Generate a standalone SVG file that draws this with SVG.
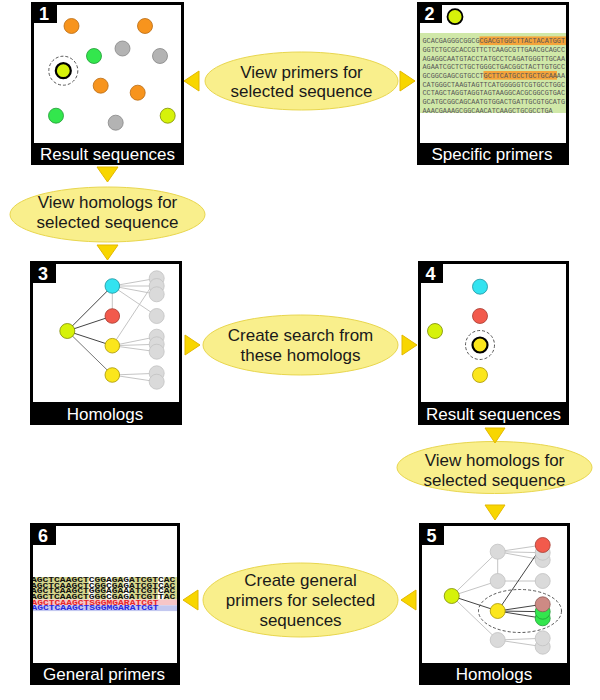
<svg xmlns="http://www.w3.org/2000/svg" width="600" height="700" viewBox="0 0 600 700">
<style>
.frame{fill:#000}
.inner{fill:#fff}
.num{font-family:"Liberation Sans",Arial,sans-serif;font-size:18px;font-weight:bold;fill:#fff;text-anchor:middle}
.lbl{font-family:"Liberation Sans",Arial,sans-serif;font-size:17px;fill:#fff;text-anchor:middle}
.ell{fill:#f9ef8c;stroke:#e8d64e;stroke-width:1}
.et{font-family:"Liberation Sans",Arial,sans-serif;font-size:17px;fill:#1a1a1a;text-anchor:middle}
.arr{fill:#f8d600;stroke:#e3b800;stroke-width:1}
.or{fill:#f7941d;stroke:#b86a12;stroke-width:0.8}
.gr{fill:#33e64d;stroke:#1e9a34;stroke-width:0.8}
.gy{fill:#b3b3b3;stroke:#858585;stroke-width:0.8}
.yg{fill:#d6f20a;stroke:#7d8c00;stroke-width:0.8}
.cy{fill:#33e3f0;stroke:#1a93a0;stroke-width:0.8}
.rd{fill:#f25a4c;stroke:#a63a30;stroke-width:0.8}
.ye{fill:#fbe61c;stroke:#a89500;stroke-width:0.8}
.lg{fill:#dadada;stroke:#c2c2c2;stroke-width:0.8}
.pk{fill:#cd8a84;stroke:#8a5a55;stroke-width:0.8}
.sel{stroke:#000;stroke-width:2.2}
.dash{fill:none;stroke:#444;stroke-width:0.9;stroke-dasharray:3,2}
.ed{stroke:#444;stroke-width:1}
.el{stroke:#bdbdbd;stroke-width:0.9}
.seq{font-family:"Liberation Mono","Courier New",monospace;font-size:7.5px;fill:#555}
.seq6{font-family:"Liberation Mono","Courier New",monospace;font-size:6.3px;font-weight:bold;fill:#111}
</style>
<defs>
<clipPath id="c2"><rect x="420" y="5" width="146" height="138"/></clipPath>
<clipPath id="c6"><rect x="33" y="526" width="144" height="137"/></clipPath>
</defs>

<!-- Panel 1 -->
<g id="panel1">
<rect class="frame" x="31" y="2" width="153" height="163"/>
<rect class="inner" x="34" y="5" width="147" height="138"/>
<rect class="frame" x="31" y="2" width="26" height="21"/>
<text class="num" x="44" y="20">1</text>
<circle class="or" cx="71.5" cy="26" r="7.5"/>
<circle class="or" cx="145" cy="26" r="7.5"/>
<circle class="gr" cx="94" cy="56" r="7.5"/>
<circle class="gy" cx="122.5" cy="48.5" r="7.5"/>
<circle class="gy" cx="160" cy="56" r="7.5"/>
<circle class="dash" cx="63.3" cy="70.7" r="14.5"/>
<circle class="yg sel" cx="63.3" cy="70.7" r="7.5"/>
<circle class="or" cx="100.7" cy="85.7" r="7.5"/>
<circle class="or" cx="137.7" cy="92.7" r="7.5"/>
<circle class="gr" cx="56" cy="115.7" r="7.5"/>
<circle class="gy" cx="115.7" cy="122.7" r="7.5"/>
<circle class="yg" cx="167.7" cy="115.7" r="7.5"/>
<text class="lbl" x="107.5" y="160">Result sequences</text>
</g>

<!-- Panel 2 -->
<g id="panel2">
<rect class="frame" x="417" y="2" width="152" height="163"/>
<rect class="inner" x="420" y="5" width="146" height="138"/>
<rect class="frame" x="417" y="2" width="25" height="21"/>
<text class="num" x="429.5" y="20">2</text>
<circle class="yg" cx="455" cy="16.7" r="7.5" style="stroke:#000;stroke-width:1.8"/>
<g clip-path="url(#c2)">
<rect x="420" y="33" width="146" height="80" fill="#d0e8a8"/>
<rect x="479.5" y="36.4" width="87" height="8.7" fill="#f5a43a"/>
<rect x="483.5" y="71" width="73.5" height="8.7" fill="#f5a43a"/>
<text class="seq" x="422.5" y="43.2" textLength="142.5" lengthAdjust="spacingAndGlyphs">GCACGAGGGCGGCGCGACGTGGCTTACTACATGGT</text>
<text class="seq" x="422.5" y="51.9" textLength="142.5" lengthAdjust="spacingAndGlyphs">GGTCTGCGCACCGTTCTCAAGCGTTGAACGCAGCC</text>
<text class="seq" x="422.5" y="60.5" textLength="142.5" lengthAdjust="spacingAndGlyphs">AGAGGCAATGTACCTATGCCTCAGATGGGTTGCAA</text>
<text class="seq" x="422.5" y="69.2" textLength="142.5" lengthAdjust="spacingAndGlyphs">AGAATCGCTCTGCTGGGCTGACGGCTACTTGTGCC</text>
<text class="seq" x="422.5" y="77.8" textLength="142.5" lengthAdjust="spacingAndGlyphs">GCGGCGAGCGTGCCTGCTTCATGCCTGCTGCAAAA</text>
<text class="seq" x="422.5" y="86.5" textLength="142.5" lengthAdjust="spacingAndGlyphs">CATGGGCTAAGTAGTTCATGGGGGTCGTGCCTGGC</text>
<text class="seq" x="422.5" y="95.2" textLength="142.5" lengthAdjust="spacingAndGlyphs">CCTAGCTAGGTAGGTAGTAAGGCACGCGGCGTGAC</text>
<text class="seq" x="422.5" y="103.8" textLength="142.5" lengthAdjust="spacingAndGlyphs">GCATGCGGCAGCAATGTGGACTGATTGCGTGCATG</text>
<text class="seq" x="422.5" y="112.5" textLength="130.2" lengthAdjust="spacingAndGlyphs">AAACGAAAGCGGCAACATCAAGCTGCGCCTGA</text>
</g>
<text class="lbl" x="492" y="160">Specific primers</text>
</g>

<!-- Panel 3 -->
<g id="panel3">
<rect class="frame" x="30" y="261" width="152" height="164"/>
<rect class="inner" x="33" y="264" width="146" height="138"/>
<rect class="frame" x="30" y="261" width="26" height="22"/>
<text class="num" x="43" y="280">3</text>
<g>
<line class="el" x1="112.3" y1="286" x2="156.7" y2="278.3"/>
<line class="el" x1="112.3" y1="286" x2="156.7" y2="286"/>
<line class="el" x1="112.3" y1="286" x2="156.7" y2="294.3"/>
<line class="el" x1="112.3" y1="286" x2="156.7" y2="316"/>
<line class="el" x1="112.3" y1="286" x2="112.3" y2="316"/>
<line class="el" x1="112.3" y1="345.7" x2="156.7" y2="278.3"/>
<line class="el" x1="112.3" y1="345.7" x2="156.7" y2="336.7"/>
<line class="el" x1="112.3" y1="345.7" x2="156.7" y2="344.3"/>
<line class="el" x1="112.3" y1="345.7" x2="156.7" y2="351.7"/>
<line class="el" x1="112.3" y1="375" x2="156.7" y2="373.3"/>
<line class="el" x1="112.3" y1="375" x2="156.7" y2="381.7"/>
<line class="ed" x1="67.3" y1="331" x2="112.3" y2="286"/>
<line class="ed" x1="67.3" y1="331" x2="112.3" y2="316"/>
<line class="ed" x1="67.3" y1="331" x2="112.3" y2="345.7"/>
<line class="ed" x1="67.3" y1="331" x2="112.3" y2="375" style="stroke:#777"/>
</g>
<circle class="lg" cx="156.7" cy="278.3" r="7.5"/>
<circle class="lg" cx="156.7" cy="286" r="7.5"/>
<circle class="lg" cx="156.7" cy="294.3" r="7.5"/>
<circle class="lg" cx="156.7" cy="316" r="7.5"/>
<circle class="lg" cx="156.7" cy="336.7" r="7.5"/>
<circle class="lg" cx="156.7" cy="344.3" r="7.5"/>
<circle class="lg" cx="156.7" cy="351.7" r="7.5"/>
<circle class="lg" cx="156.7" cy="373.3" r="7.5"/>
<circle class="lg" cx="156.7" cy="381.7" r="7.5"/>
<circle class="yg" cx="67.3" cy="331" r="7.5"/>
<circle class="cy" cx="112.3" cy="286" r="7.3"/>
<circle class="rd" cx="112.3" cy="316" r="7.3"/>
<circle class="ye" cx="112.3" cy="345.7" r="7.3"/>
<circle class="ye" cx="112.3" cy="375" r="7.3"/>
<text class="lbl" x="105" y="420">Homologs</text>
</g>

<!-- Panel 4 -->
<g id="panel4">
<rect class="frame" x="418" y="261" width="151" height="164"/>
<rect class="inner" x="421" y="264" width="145" height="138"/>
<rect class="frame" x="418" y="261" width="25" height="22"/>
<text class="num" x="430.5" y="280">4</text>
<circle class="cy" cx="480" cy="286.7" r="7.5"/>
<circle class="rd" cx="480" cy="316" r="7.5"/>
<circle class="yg" cx="435" cy="331" r="7.5"/>
<circle class="dash" cx="480" cy="345" r="14.5"/>
<circle class="ye sel" cx="480" cy="345" r="7.5"/>
<circle class="ye" cx="480" cy="375" r="7.5"/>
<text class="lbl" x="493.5" y="420">Result sequences</text>
</g>

<!-- Panel 5 -->
<g id="panel5">
<rect class="frame" x="419" y="523" width="151" height="162"/>
<rect class="inner" x="422" y="526" width="145" height="137"/>
<rect class="frame" x="419" y="523" width="25" height="22"/>
<text class="num" x="431.5" y="542">5</text>
<g>
<line class="el" x1="451.7" y1="596" x2="497.7" y2="551.7"/>
<line class="el" x1="451.7" y1="596" x2="497.7" y2="581"/>
<line class="el" x1="451.7" y1="596" x2="497.7" y2="640"/>
<line class="el" x1="497.7" y1="551.7" x2="542.7" y2="545"/>
<line class="el" x1="497.7" y1="551.7" x2="542.7" y2="552.7"/>
<line class="el" x1="497.7" y1="551.7" x2="542.7" y2="560"/>
<line class="el" x1="497.7" y1="551.7" x2="497.7" y2="581"/>
<line class="el" x1="497.7" y1="581" x2="542.7" y2="581"/>
<line class="el" x1="497.7" y1="640" x2="542.7" y2="638.3"/>
<line class="el" x1="497.7" y1="640" x2="542.7" y2="646.7"/>
<line class="ed" x1="451.7" y1="596" x2="497.7" y2="611"/>
<line class="ed" x1="497.7" y1="611" x2="542.7" y2="545"/>
<line class="ed" x1="497.7" y1="611" x2="542.7" y2="604.3"/>
<line class="ed" x1="497.7" y1="611" x2="542.7" y2="611.7"/>
<line class="ed" x1="497.7" y1="611" x2="542.7" y2="618.3"/>
</g>
<circle class="lg" cx="542.7" cy="560" r="7.5"/>
<circle class="lg" cx="542.7" cy="552.7" r="7.5"/>
<circle class="rd" cx="542.7" cy="545" r="7.5"/>
<circle class="lg" cx="542.7" cy="581" r="7.5"/>
<circle class="gr" cx="542.7" cy="618.3" r="7.5"/>
<circle class="gr" cx="542.7" cy="611.7" r="7.5"/>
<circle class="pk" cx="542.7" cy="604.3" r="7.5"/>
<circle class="lg" cx="542.7" cy="646.7" r="7.5"/>
<circle class="lg" cx="542.7" cy="638.3" r="7.5"/>
<circle class="lg" cx="497.7" cy="551.7" r="7.5"/>
<circle class="lg" cx="497.7" cy="581" r="7.5"/>
<circle class="lg" cx="497.7" cy="640" r="7.5"/>
<circle class="yg" cx="451.7" cy="596" r="7.5"/>
<circle class="ye" cx="497.7" cy="611" r="7.5"/>
<ellipse class="dash" cx="520" cy="611" rx="41.5" ry="21.5"/>
<text class="lbl" x="494" y="680">Homologs</text>
</g>

<!-- Panel 6 -->
<g id="panel6">
<rect class="frame" x="30" y="523" width="150" height="162"/>
<rect class="inner" x="33" y="526" width="144" height="137"/>
<g clip-path="url(#c6)">
<rect x="30" y="577" width="147" height="22.5" fill="#d6d68c"/>
<rect x="88.7" y="577" width="5.8" height="22.5" fill="#fff"/>
<rect x="106" y="577" width="5.8" height="22.5" fill="#fff"/>
<rect x="123.3" y="577" width="5.8" height="22.5" fill="#fff"/>
<rect x="157.9" y="577" width="5.8" height="22.5" fill="#fff"/>
<rect x="30" y="599.5" width="147" height="5.8" fill="#f7c6c8"/>
<rect x="30" y="605.3" width="147" height="5.8" fill="#c3c8f0"/>
<text class="seq6" x="31" y="582.2" textLength="144.3" lengthAdjust="spacingAndGlyphs">AGCTCAAGCTCGGAGAGATCGTCAC</text>
<text class="seq6" x="31" y="587.7" textLength="144.3" lengthAdjust="spacingAndGlyphs">AGCTCAAGCTCGGCGAGATCGTCAC</text>
<text class="seq6" x="31" y="593.2" textLength="144.3" lengthAdjust="spacingAndGlyphs">AGCTCAAGCTGGGAGAAATCGTCAC</text>
<text class="seq6" x="31" y="598.7" textLength="144.3" lengthAdjust="spacingAndGlyphs">AGCTCAAGCTGGGCGAGATCGTTAC</text>
<text class="seq6" x="31.5" y="604.6" textLength="127" lengthAdjust="spacingAndGlyphs" style="fill:#e8282a">AGCTCAAGCTSGGMGARATCGT</text>
<text class="seq6" x="31.5" y="610.4" textLength="127" lengthAdjust="spacingAndGlyphs" style="fill:#2a2ae0">AGCTCAAGCTSGGMGARATCGT</text>
</g>
<rect class="frame" x="30" y="523" width="26" height="22"/>
<text class="num" x="43" y="542">6</text>
<text class="lbl" x="104" y="680">General primers</text>
</g>

<!-- Action ellipses -->
<g id="act1">
<ellipse class="ell" cx="301.5" cy="81" rx="96.5" ry="29"/>
<text class="et" x="301.5" y="77.5">View primers for</text>
<text class="et" x="301.5" y="96.5">selected sequence</text>
</g>
<g id="act2">
<ellipse class="ell" cx="107.5" cy="214.5" rx="97.5" ry="27.5"/>
<text class="et" x="107.5" y="207.5">View homologs for</text>
<text class="et" x="107.5" y="227.5">selected sequence</text>
</g>
<g id="act3">
<ellipse class="ell" cx="300.5" cy="345" rx="97.5" ry="30"/>
<text class="et" x="300.5" y="341">Create search from</text>
<text class="et" x="300.5" y="361">these homologs</text>
</g>
<g id="act4">
<ellipse class="ell" cx="494.5" cy="467.5" rx="97.5" ry="26"/>
<text class="et" x="494.5" y="466">View homologs for</text>
<text class="et" x="494.5" y="486">selected sequence</text>
</g>
<g id="act5">
<ellipse class="ell" cx="300.5" cy="600" rx="97.5" ry="37"/>
<text class="et" x="300.5" y="586">Create general</text>
<text class="et" x="300.5" y="606">primers for selected</text>
<text class="et" x="300.5" y="626">sequences</text>
</g>

<!-- Connectors -->
<g id="connectors">
<polygon class="arr" points="184,81 199,71 199,91"/>
<polygon class="arr" points="415,81 400,71 400,91"/>
<polygon class="arr" points="97,167 118,167 107.5,182"/>
<polygon class="arr" points="97,245 118,245 107.5,260"/>
<polygon class="arr" points="185,335 185,355 200,345"/>
<polygon class="arr" points="402,335 402,355 417,345"/>
<polygon class="arr" points="485,428 505,428 495,443"/>
<polygon class="arr" points="485,505 505,505 495,520"/>
<polygon class="arr" points="401,600 416,590 416,610"/>
<polygon class="arr" points="183,600 198,590 198,610"/>
</g>
</svg>
